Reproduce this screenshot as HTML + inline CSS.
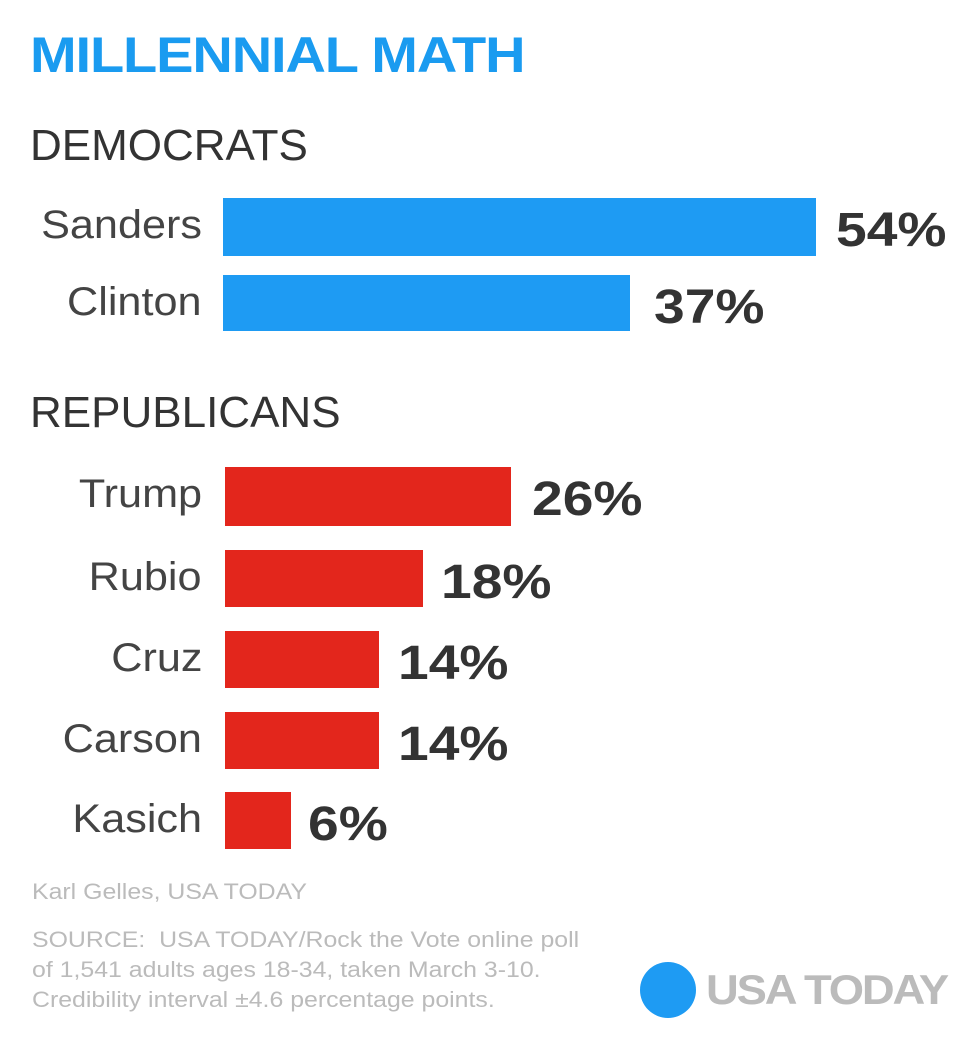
<!DOCTYPE html>
<html><head><style>
body{margin:0;width:980px;height:1051px;background:#fff;position:relative;overflow:hidden;font-family:"Liberation Sans",sans-serif}
.a{position:absolute;white-space:nowrap}
.t{left:30px;top:26px;font-size:50px;font-weight:bold;color:#1a9bf0;letter-spacing:-1px;transform:scaleX(1.12);transform-origin:left}
.h{left:30px;font-size:44px;color:#333}
.l{right:778px;font-size:40px;color:#444;text-align:right;transform:scaleX(1.08);transform-origin:right}
.b{position:absolute}
.bl{background:#1e9bf3}.rd{background:#e3261c}
.p{font-size:48px;font-weight:bold;color:#333;transform:scaleX(1.15);transform-origin:left}
.f{left:32px;font-size:22px;color:#bbb;transform:scaleX(1.13);transform-origin:left}
</style></head><body>
<div class="a t">MILLENNIAL MATH</div>
<div class="a h" style="top:121px">DEMOCRATS</div>
<div class="a l" style="top:203px">Sanders</div>
<div class="b bl" style="left:223px;top:198px;width:593px;height:58px"></div>
<div class="a p" style="left:836px;top:203px">54%</div>
<div class="a l" style="top:280px">Clinton</div>
<div class="b bl" style="left:223px;top:275px;width:407px;height:56px"></div>
<div class="a p" style="left:654px;top:280px">37%</div>
<div class="a h" style="top:388px">REPUBLICANS</div>
<div class="a l" style="top:472px">Trump</div>
<div class="b rd" style="left:225px;top:467px;width:286px;height:59px"></div>
<div class="a p" style="left:532px;top:472px">26%</div>
<div class="a l" style="top:555px">Rubio</div>
<div class="b rd" style="left:225px;top:550px;width:198px;height:57px"></div>
<div class="a p" style="left:441px;top:555px">18%</div>
<div class="a l" style="top:636px">Cruz</div>
<div class="b rd" style="left:225px;top:631px;width:154px;height:57px"></div>
<div class="a p" style="left:398px;top:636px">14%</div>
<div class="a l" style="top:717px">Carson</div>
<div class="b rd" style="left:225px;top:712px;width:154px;height:57px"></div>
<div class="a p" style="left:398px;top:717px">14%</div>
<div class="a l" style="top:797px">Kasich</div>
<div class="b rd" style="left:225px;top:792px;width:66px;height:57px"></div>
<div class="a p" style="left:308px;top:797px">6%</div>
<div class="a f" style="top:879px">Karl Gelles, USA TODAY</div>
<div class="a f" style="top:927px">SOURCE:&nbsp; USA TODAY/Rock the Vote online poll</div>
<div class="a f" style="top:957px">of 1,541 adults ages 18-34, taken March 3-10.</div>
<div class="a f" style="top:987px">Credibility interval ±4.6 percentage points.</div>
<div class="b" style="left:640px;top:962px;width:56px;height:56px;border-radius:50%;background:#1e9bf3"></div>
<div class="a" style="left:706px;top:966px;font-size:42px;font-weight:bold;color:#bbb;letter-spacing:-2px;transform:scaleX(1.08);transform-origin:left">USA TODAY</div>
</body></html>
